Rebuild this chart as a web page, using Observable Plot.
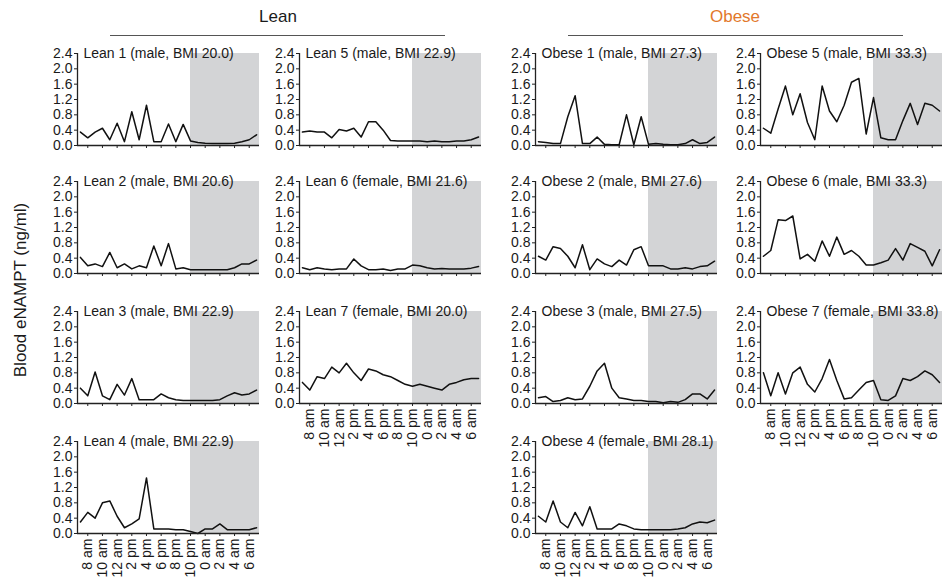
<!DOCTYPE html>
<html>
<head>
<meta charset="utf-8">
<script src="https://cdn.jsdelivr.net/npm/d3@7"></script>
<script src="https://cdn.jsdelivr.net/npm/@observablehq/plot@0.6"></script>
<style>
  html, body { margin: 0; padding: 0; background: #fff; }
  #root { position: relative; width: 942px; height: 579px; overflow: hidden; font-family: "Liberation Sans", Arial, Helvetica, sans-serif; color: #1a1a1a; }
  .hdr { position: absolute; transform: translate(-50%, -50%); font-size: 17px; white-space: nowrap; }
  .sep { position: absolute; height: 0; border-top: 1.5px solid #555; }
  .ylab { position: absolute; transform: translate(-50%, -50%) rotate(-90deg); font-size: 17px; white-space: nowrap; }
</style>
</head>
<body>
<div id="root"></div>
<script>
// Sampling times: hours after 8 am (−1 = 7 am … 23 = 7 am next day)
const hours = [-1,0,1,2,3,4,5,6,7,8,9,10,11,12,13,14,15,16,17,18,19,20,21,22,23];
const tickHours = [0,2,4,6,8,10,12,14,16,18,20,22];
const tickLabels = ["8 am","10 am","12 am","2 pm","4 pm","6 pm","8 pm","10 pm","0 am","2 am","4 am","6 am"];
const yTicks = [0,0.4,0.8,1.2,1.6,2.0,2.4];
const nightStart = 14; // 10 pm

const panelLabels = [
  "Lean 1 (male, BMI 20.0)", "Lean 2 (male, BMI 20.6)", "Lean 3 (male, BMI 22.9)", "Lean 4 (male, BMI 22.9)",
  "Lean 5 (male, BMI 22.9)", "Lean 6 (female, BMI 21.6)", "Lean 7 (female, BMI 20.0)",
  "Obese 1 (male, BMI 27.3)", "Obese 2 (male, BMI 27.6)", "Obese 3 (male, BMI 27.5)", "Obese 4 (female, BMI 28.1)",
  "Obese 5 (male, BMI 33.3)", "Obese 6 (male, BMI 33.3)", "Obese 7 (female, BMI 33.8)"
];

const lean1 = [0.35,0.2,0.35,0.45,0.15,0.58,0.1,0.88,0.15,1.05,0.1,0.1,0.56,0.1,0.55,0.12,0.08,0.06,0.05,0.05,0.05,0.06,0.1,0.15,0.28];
const lean2 = [0.42,0.2,0.25,0.18,0.55,0.15,0.25,0.12,0.2,0.15,0.72,0.2,0.78,0.12,0.15,0.1,0.1,0.1,0.1,0.1,0.1,0.15,0.25,0.25,0.35];
const lean3 = [0.4,0.2,0.82,0.2,0.1,0.5,0.22,0.65,0.1,0.1,0.1,0.25,0.15,0.1,0.08,0.08,0.08,0.08,0.08,0.1,0.2,0.28,0.22,0.25,0.35];
const lean4 = [0.3,0.55,0.4,0.8,0.85,0.45,0.15,0.25,0.38,1.45,0.12,0.12,0.12,0.1,0.1,0.05,0.0,0.12,0.12,0.25,0.1,0.1,0.1,0.1,0.15];
const lean5 = [0.35,0.38,0.35,0.35,0.2,0.42,0.38,0.45,0.22,0.62,0.62,0.4,0.13,0.12,0.12,0.12,0.12,0.1,0.12,0.1,0.1,0.12,0.12,0.15,0.22];
const lean6 = [0.15,0.1,0.15,0.12,0.1,0.12,0.12,0.38,0.2,0.1,0.1,0.12,0.08,0.12,0.12,0.22,0.2,0.15,0.12,0.13,0.12,0.12,0.12,0.14,0.18];
const lean7 = [0.55,0.35,0.7,0.65,0.95,0.8,1.05,0.8,0.6,0.9,0.85,0.75,0.7,0.6,0.5,0.45,0.5,0.45,0.4,0.35,0.5,0.55,0.62,0.65,0.65];
const obese1 = [0.1,0.08,0.05,0.05,0.75,1.3,0.05,0.05,0.22,0.03,0.02,0.02,0.8,0.02,0.75,0.03,0.05,0.03,0.02,0.02,0.05,0.15,0.05,0.08,0.22];
const obese2 = [0.45,0.35,0.7,0.65,0.45,0.15,0.75,0.1,0.38,0.25,0.18,0.35,0.22,0.62,0.7,0.2,0.2,0.2,0.12,0.12,0.15,0.12,0.18,0.2,0.32];
const obese3 = [0.15,0.18,0.05,0.08,0.15,0.1,0.12,0.45,0.85,1.05,0.4,0.15,0.12,0.08,0.08,0.05,0.05,0.02,0.05,0.03,0.1,0.25,0.25,0.12,0.35];
const obese4 = [0.45,0.3,0.85,0.3,0.15,0.55,0.2,0.7,0.12,0.12,0.12,0.25,0.2,0.12,0.1,0.1,0.1,0.1,0.1,0.12,0.15,0.25,0.3,0.28,0.35];
const obese5 = [0.45,0.32,0.95,1.55,0.8,1.35,0.6,0.15,1.55,0.9,0.62,1.05,1.65,1.75,0.3,1.25,0.2,0.15,0.15,0.65,1.1,0.55,1.1,1.05,0.9];
const obese6 = [0.45,0.6,1.4,1.38,1.5,0.38,0.5,0.32,0.85,0.45,0.95,0.5,0.6,0.45,0.22,0.22,0.28,0.35,0.65,0.35,0.78,0.68,0.58,0.2,0.62];
const obese7 = [0.8,0.2,0.8,0.25,0.8,0.95,0.5,0.3,0.65,1.15,0.6,0.12,0.15,0.35,0.55,0.6,0.1,0.08,0.2,0.65,0.6,0.7,0.85,0.75,0.55];

const seriesList = [lean1, lean2, lean3, lean4, lean5, lean6, lean7, obese1, obese2, obese3, obese4, obese5, obese6, obese7];
const panelCol = [0,0,0,0, 1,1,1, 2,2,2,2, 3,3,3];
const panelRow = [0,1,2,3, 0,1,2, 0,1,2,3, 0,1,2];
const bottomPanel = [false,false,false,true, false,false,true, false,false,false,true, false,false,true];

// layout (pixels)
const colAxisX = [77, 299, 535, 760];
const rowTopY = [53, 181, 311, 441];
const PW = 182, PH = 92;
const X0 = -1.4, X1 = 23.4;
const FONT = '"Liberation Sans", Arial, Helvetica, sans-serif';

const root = document.getElementById("root");

function addDiv(cls, text, css) {
  const d = document.createElement("div");
  d.className = cls;
  if (text) d.textContent = text;
  Object.assign(d.style, css);
  root.appendChild(d);
  return d;
}

// group headers
addDiv("hdr", "Lean", {left: "278px", top: "17px"});
addDiv("hdr", "Obese", {left: "735px", top: "17px", color: "#e2782c"});
addDiv("sep", "", {left: "110px", top: "35px", width: "335px"});
addDiv("sep", "", {left: "568px", top: "35px", width: "335px"});
addDiv("ylab", "Blood eNAMPT (ng/ml)", {left: "21px", top: "290px"});

seriesList.forEach((vals, i) => {
  const bottom = bottomPanel[i];
  const mL = 36, mR = 2, mT = 10, mB = bottom ? 48 : 8;
  const data = hours.map((h, k) => ({h, v: vals[k]}));
  const night = [{x1: nightStart, x2: X1, y1: 0, y2: 2.4}];
  const chart = Plot.plot({
    width: mL + PW + mR,
    height: mT + PH + mB,
    marginLeft: mL, marginRight: mR, marginTop: mT, marginBottom: mB,
    style: {fontFamily: FONT, fontSize: "14px", color: "#1a1a1a", background: "transparent", overflow: "visible"},
    x: {domain: [X0, X1], label: null},
    y: {domain: [0, 2.4], label: null},
    marks: [
      Plot.rect(night, {x1: "x1", x2: "x2", y1: "y1", y2: "y2", fill: "#d3d4d6"}),
      Plot.line(data, {x: "h", y: "v", stroke: "#111", strokeWidth: 1.5}),
      Plot.ruleY([0], {stroke: "#222", strokeWidth: 1.3}),
      Plot.ruleX([X0], {stroke: "#222", strokeWidth: 1.3}),
      Plot.axisY({ticks: yTicks, tickFormat: d3.format(".1f"), tickSize: 3, tickPadding: 2, label: null, fontSize: 14, stroke: "#222"}),
      Plot.axisX({
        ticks: tickHours, tickSize: 3, tickPadding: 2, label: null, fontSize: 14, stroke: "#222",
        tickRotate: bottom ? -90 : 0,
        tickFormat: bottom ? (d => tickLabels[tickHours.indexOf(d)]) : (() => "")
      }),
      Plot.text([panelLabels[i]], {x: X0, y: 2.4, text: d => d, textAnchor: "start", lineAnchor: "middle", dx: 6, fontSize: 14, fill: "#1a1a1a"})
    ]
  });
  chart.style.position = "absolute";
  chart.style.left = (colAxisX[panelCol[i]] - mL) + "px";
  chart.style.top = (rowTopY[panelRow[i]] - mT) + "px";
  root.appendChild(chart);
});
</script>
</body>
</html>
